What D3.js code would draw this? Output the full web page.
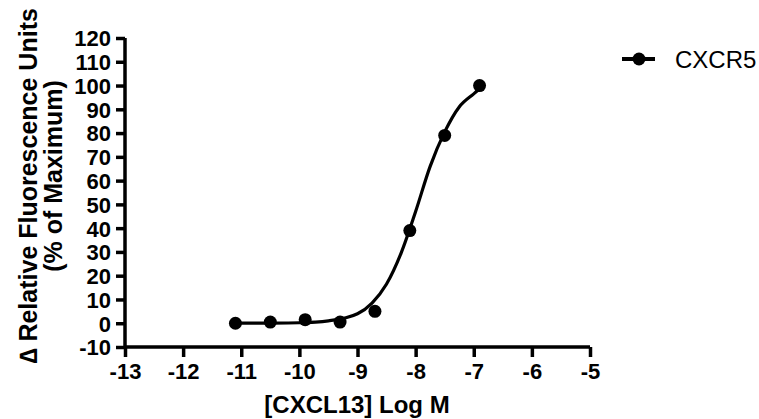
<!DOCTYPE html>
<html>
<head>
<meta charset="utf-8">
<script src="https://cdn.jsdelivr.net/npm/d3@7"></script>
<style>
body { margin: 0; background: #fff; }
text { font-family: "Liberation Sans", Arial, sans-serif; }
</style>
</head>
<body>
<svg id="graph"></svg>
<script>
// measured points: log concentration vs % of max
var logConc = [-11.1, -10.5, -9.9, -9.3, -8.7, -8.1, -7.5, -6.9];
var response = [0, 0.5, 1.5, 0.5, 5, 39, 79, 100];

// fitted curve
var curveX = [-11.1, -10.5, -10, -9.5, -9, -8.75, -8.5, -8.25, -8, -7.75, -7.5, -7.25, -7, -6.9];
var curveY = [0, 0.05, 0.2, 1, 4, 8.5, 16.5, 29.5, 47, 66, 80.5, 91, 96.5, 98.5];

var xTicks = [-13, -12, -11, -10, -9, -8, -7, -6, -5];
var yTicks = [-10, 0, 10, 20, 30, 40, 50, 60, 70, 80, 90, 100, 110, 120];

var seriesName = "CXCR5";

var screen = { width: 759, height: 419 };
var margins = { top: 38, bottom: 72, left: 125, right: 169 };

var svg = d3.select("#graph")
  .attr("width", screen.width)
  .attr("height", screen.height);

var xScale = d3.scaleLinear().domain([-13, -5]).range([margins.left, margins.left + 465]);
var yScale = d3.scaleLinear().domain([-10, 120]).range([screen.height - margins.bottom, margins.top]);

//axes
var xAxis = d3.axisBottom(xScale).tickValues(xTicks).tickSize(10).tickPadding(6)
  .tickFormat(function(d){ return d; });
var yAxis = d3.axisLeft(yScale).tickValues(yTicks).tickSize(9).tickPadding(5)
  .tickFormat(function(d){ return d; });

var xg = svg.append("g").attr("transform", "translate(0," + yScale(-10) + ")").call(xAxis);
var yg = svg.append("g").attr("transform", "translate(" + xScale(-13) + ",0)").call(yAxis);

[xg, yg].forEach(function(g){
  g.select(".domain").attr("stroke", "#000").attr("stroke-width", 3.5)
    .attr("d", g === xg
      ? "M" + xScale(-13) + ",0H" + xScale(-5)
      : "M0," + yScale(120) + "V" + yScale(-10));
  g.selectAll(".tick line").attr("stroke", "#000").attr("stroke-width", 3.5);
  g.selectAll(".tick text").attr("fill", "#000").attr("font-size", 22)
    .attr("font-weight", "bold").attr("font-family", "Liberation Sans, Arial, sans-serif");
});
xg.selectAll(".tick text").attr("dy", "0.71em");
yg.selectAll(".tick text").attr("dy", "0.36em");

//axis titles
svg.append("text")
  .attr("x", 357).attr("y", 413)
  .attr("text-anchor", "middle")
  .attr("font-size", 24).attr("font-weight", "bold")
  .text("[CXCL13] Log M");

svg.append("text")
  .attr("transform", "translate(37,186) rotate(-90)")
  .attr("text-anchor", "middle")
  .attr("font-size", 25).attr("font-weight", "bold")
  .text("\u2206 Relative Fluorescence Units");

svg.append("text")
  .attr("transform", "translate(62,176) rotate(-90)")
  .attr("text-anchor", "middle")
  .attr("font-size", 25).attr("font-weight", "bold")
  .text("(% of Maximum)");

//curve
var line = d3.line()
  .x(function(d){ return xScale(d[0]); })
  .y(function(d){ return yScale(d[1]); })
  .curve(d3.curveMonotoneX);

svg.append("path")
  .datum(d3.zip(curveX, curveY))
  .attr("d", line)
  .attr("fill", "none")
  .attr("stroke", "#000")
  .attr("stroke-width", 3.2);

//points
svg.append("g").selectAll("circle")
  .data(d3.zip(logConc, response))
  .enter()
  .append("circle")
  .attr("cx", function(d){ return xScale(d[0]); })
  .attr("cy", function(d){ return yScale(d[1]); })
  .attr("r", 6.5)
  .attr("fill", "#000");

//legend
var legend = svg.append("g").attr("transform", "translate(622,59)");
legend.append("line").attr("x1", 0).attr("x2", 33).attr("y1", 0).attr("y2", 0)
  .attr("stroke", "#000").attr("stroke-width", 4);
legend.append("circle").attr("cx", 17).attr("cy", 0).attr("r", 6.5).attr("fill", "#000");
legend.append("text").attr("x", 53).attr("y", 0).attr("dy", "0.36em")
  .attr("font-size", 24).text(seriesName);
</script>
</body>
</html>
